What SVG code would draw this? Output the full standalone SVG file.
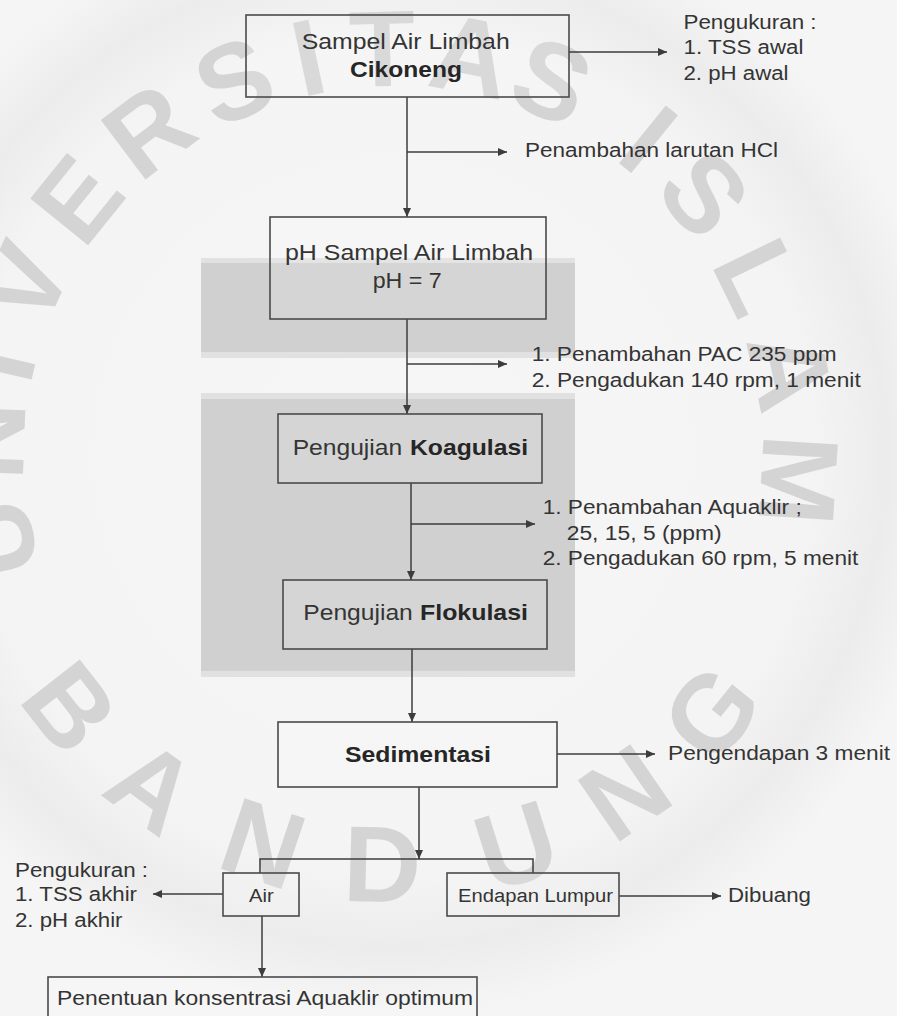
<svg xmlns="http://www.w3.org/2000/svg" width="897" height="1016" viewBox="0 0 897 1016">
  <defs>
    <marker id="arrow" markerUnits="userSpaceOnUse" markerWidth="9" markerHeight="8" refX="9" refY="4" orient="auto">
      <path d="M0,0 L9,4 L0,8 z" fill="#3c3c3c"/>
    </marker>
    <radialGradient id="haze" cx="393" cy="455" r="560" gradientUnits="userSpaceOnUse">
      <stop offset="0" stop-color="#f6f6f6"/>
      <stop offset="0.75" stop-color="#f4f4f4"/>
      <stop offset="0.88" stop-color="#ececec"/>
      <stop offset="1" stop-color="#f5f5f5"/>
    </radialGradient>
    <style>
      .box { fill: #ffffff; fill-opacity: 0.12; stroke: #4a4a4a; stroke-width: 1.6; }
      .lbl { font-family: "Liberation Sans", Arial, sans-serif; font-size: 20px; fill: #343434; }
      .btx { font-family: "Liberation Sans", Arial, sans-serif; font-size: 22px; fill: #343434; }
      .sm { font-family: "Liberation Sans", Arial, sans-serif; font-size: 18px; fill: #343434; }
      .b { font-weight: bold; fill: #262626; }
      .wm { font-family: "Liberation Sans", Arial, sans-serif; font-size: 108px; font-weight: bold; fill: #d0d0d0; fill-opacity: 0.9; text-anchor: middle; }
      .band { fill: #d0d0d0; }
      .edge { fill: #e1e1e1; }
      #connectors path { fill: none; stroke: #3c3c3c; stroke-width: 1.5; }
    </style>
  </defs>

  <!-- paper -->
  <rect x="0" y="0" width="897" height="1016" fill="url(#haze)"/>

  <!-- shaded bands behind the coagulation steps -->
  <g id="bands">
    <rect class="edge" x="201" y="258" width="374" height="100"/>
    <rect class="band" x="201" y="263" width="374" height="89"/>
    <rect class="edge" x="201" y="393" width="374" height="284"/>
    <rect class="band" x="201" y="399" width="374" height="272"/>
  </g>

  <!-- seal lettering -->
  <g id="seal">
    <text class="wm" x="393" y="86" transform="rotate(-102 393 455)">U</text>
    <text class="wm" x="393" y="86" transform="rotate(-88 393 455)">N</text>
    <text class="wm" x="393" y="86" transform="rotate(-77 393 455)">I</text>
    <text class="wm" x="393" y="86" transform="rotate(-65 393 455)">V</text>
    <text class="wm" x="393" y="86" transform="rotate(-51 393 455)">E</text>
    <text class="wm" x="393" y="86" transform="rotate(-37 393 455)">R</text>
    <text class="wm" x="393" y="86" transform="rotate(-23 393 455)">S</text>
    <text class="wm" x="393" y="86" transform="rotate(-12 393 455)">I</text>
    <text class="wm" x="393" y="86" transform="rotate(-1.5 393 455)">T</text>
    <text class="wm" x="393" y="86" transform="rotate(11 393 455)">A</text>
    <text class="wm" x="393" y="86" transform="rotate(23 393 455)">S</text>
    <text class="wm" x="393" y="86" transform="rotate(39 393 455)">I</text>
    <text class="wm" x="393" y="86" transform="rotate(50 393 455)">S</text>
    <text class="wm" x="393" y="86" transform="rotate(64 393 455)">L</text>
    <text class="wm" x="393" y="86" transform="rotate(78 393 455)">A</text>
    <text class="wm" x="393" y="86" transform="rotate(93.5 393 455)">M</text>
    <text class="wm" x="393" y="902" transform="rotate(52 393 455)">B</text>
    <text class="wm" x="393" y="902" transform="rotate(36 393 455)">A</text>
    <text class="wm" x="393" y="902" transform="rotate(18.5 393 455)">N</text>
    <text class="wm" x="393" y="902" transform="rotate(1.5 393 455)">D</text>
    <text class="wm" x="393" y="902" transform="rotate(-17.5 393 455)">U</text>
    <text class="wm" x="393" y="902" transform="rotate(-34.5 393 455)">N</text>
    <text class="wm" x="393" y="902" transform="rotate(-51 393 455)">G</text>
  </g>

  <!-- connectors -->
  <g id="connectors">
    <path d="M569,52 H667" marker-end="url(#arrow)"/>
    <path d="M407,97 V217" marker-end="url(#arrow)"/>
    <path d="M407,152 H507" marker-end="url(#arrow)"/>
    <path d="M407,319 V414" marker-end="url(#arrow)"/>
    <path d="M407,364 H507" marker-end="url(#arrow)"/>
    <path d="M411,483 V580" marker-end="url(#arrow)"/>
    <path d="M411,524 H535" marker-end="url(#arrow)"/>
    <path d="M412,649 V722" marker-end="url(#arrow)"/>
    <path d="M557,754 H655" marker-end="url(#arrow)"/>
    <path d="M419,787 V859" marker-end="url(#arrow)"/>
    <path d="M260,873 V859 H533 V873"/>
    <path d="M223,894 H153" marker-end="url(#arrow)"/>
    <path d="M619,896 H721" marker-end="url(#arrow)"/>
    <path d="M262,916 V977" marker-end="url(#arrow)"/>
  </g>

  <!-- side notes -->
  <g id="note-awal">
    <text class="lbl" x="683.5" y="28.5" textLength="133" lengthAdjust="spacingAndGlyphs">Pengukuran :</text>
    <text class="lbl" x="683.5" y="54" textLength="120" lengthAdjust="spacingAndGlyphs">1. TSS awal</text>
    <text class="lbl" x="683.5" y="79.5" textLength="105" lengthAdjust="spacingAndGlyphs">2. pH awal</text>
  </g>
  <g id="note-hcl">
    <text class="lbl" x="525" y="157" textLength="253" lengthAdjust="spacingAndGlyphs">Penambahan larutan HCl</text>
  </g>
  <g id="note-pac">
    <text class="lbl" x="531.7" y="361" textLength="305" lengthAdjust="spacingAndGlyphs">1. Penambahan PAC 235 ppm</text>
    <text class="lbl" x="531.7" y="387" textLength="329" lengthAdjust="spacingAndGlyphs">2. Pengadukan 140 rpm, 1 menit</text>
  </g>
  <g id="note-aquaklir">
    <text class="lbl" x="542.7" y="513.5" textLength="259" lengthAdjust="spacingAndGlyphs">1. Penambahan Aquaklir ;</text>
    <text class="lbl" x="566.7" y="539.5" textLength="155" lengthAdjust="spacingAndGlyphs">25, 15, 5 (ppm)</text>
    <text class="lbl" x="542.7" y="564.5" textLength="315.6" lengthAdjust="spacingAndGlyphs">2. Pengadukan 60 rpm, 5 menit</text>
  </g>
  <g id="note-endap">
    <text class="lbl" x="668" y="760" textLength="222" lengthAdjust="spacingAndGlyphs">Pengendapan 3 menit</text>
  </g>
  <g id="note-akhir">
    <text class="lbl" x="15" y="877" textLength="133" lengthAdjust="spacingAndGlyphs">Pengukuran :</text>
    <text class="lbl" x="15" y="901" textLength="122" lengthAdjust="spacingAndGlyphs">1. TSS akhir</text>
    <text class="lbl" x="15" y="927" textLength="107.5" lengthAdjust="spacingAndGlyphs">2. pH akhir</text>
  </g>
  <g id="note-buang">
    <text class="lbl" x="728" y="902" textLength="83" lengthAdjust="spacingAndGlyphs">Dibuang</text>
  </g>

  <!-- process boxes -->
  <g id="sampel">
    <rect class="box" x="246" y="15" width="323" height="82"/>
    <text class="btx" x="301.7" y="49" textLength="208" lengthAdjust="spacingAndGlyphs">Sampel Air Limbah</text>
    <text class="btx b" x="350" y="77" textLength="112" lengthAdjust="spacingAndGlyphs">Cikoneng</text>
  </g>
  <g id="ph-sampel">
    <rect class="box" x="270" y="217" width="276" height="102"/>
    <text class="btx" x="285" y="260" textLength="248" lengthAdjust="spacingAndGlyphs">pH Sampel Air Limbah</text>
    <text class="btx" x="372.7" y="287.5" textLength="69" lengthAdjust="spacingAndGlyphs">pH = 7</text>
  </g>
  <g id="koagulasi">
    <rect class="box" x="278" y="414" width="264" height="69"/>
    <text class="btx" x="292.7" y="455" textLength="109.5" lengthAdjust="spacingAndGlyphs">Pengujian</text>
    <text class="btx b" x="410" y="455" textLength="118" lengthAdjust="spacingAndGlyphs">Koagulasi</text>
  </g>
  <g id="flokulasi">
    <rect class="box" x="283" y="580" width="264" height="69"/>
    <text class="btx" x="303.3" y="620" textLength="109.5" lengthAdjust="spacingAndGlyphs">Pengujian</text>
    <text class="btx b" x="420" y="620" textLength="108" lengthAdjust="spacingAndGlyphs">Flokulasi</text>
  </g>
  <g id="sedimentasi">
    <rect class="box" x="278" y="722" width="279" height="65"/>
    <text class="btx b" x="345" y="762" textLength="146" lengthAdjust="spacingAndGlyphs">Sedimentasi</text>
  </g>
  <g id="air">
    <rect class="box" x="223" y="873" width="76" height="43"/>
    <text class="sm" x="249" y="902" textLength="24.7" lengthAdjust="spacingAndGlyphs">Air</text>
  </g>
  <g id="endapan">
    <rect class="box" x="447" y="873" width="172" height="43"/>
    <text class="sm" x="458" y="902" textLength="155" lengthAdjust="spacingAndGlyphs">Endapan Lumpur</text>
  </g>
  <g id="penentuan">
    <rect class="box" x="48" y="977" width="429" height="48"/>
    <text class="lbl" x="57" y="1005" textLength="416" lengthAdjust="spacingAndGlyphs">Penentuan konsentrasi Aquaklir optimum</text>
  </g>
</svg>
